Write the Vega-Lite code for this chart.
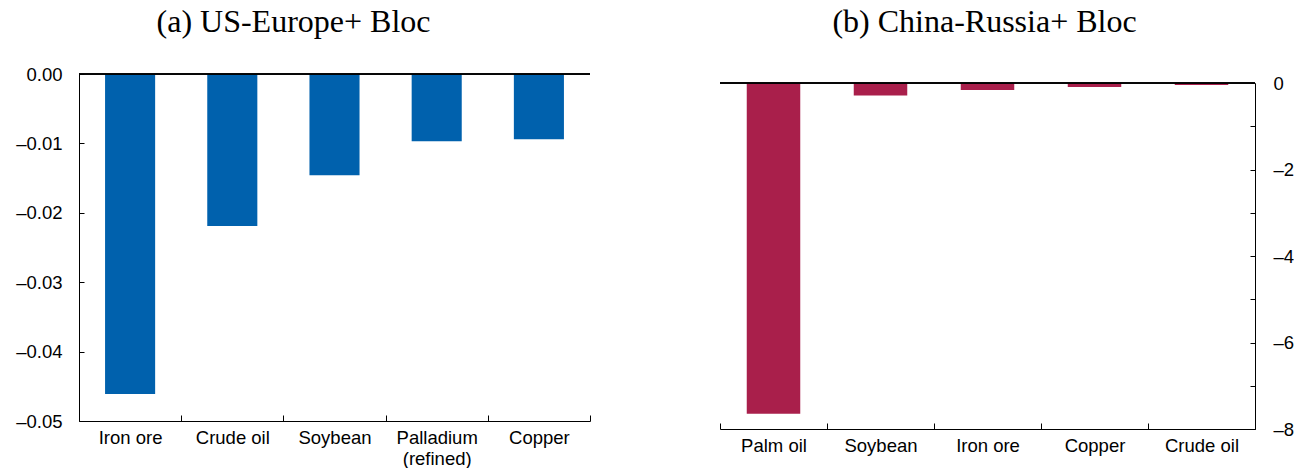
{
  "$schema": "https://vega.github.io/schema/vega-lite/v6.json",
  "background": "white",
  "padding": {"left": 15, "top": 6, "right": 0, "bottom": 0},
  "spacing": 128,
  "config": {
    "view": {"stroke": null},
    "font": "Liberation Sans",
    "axis": {
      "domainColor": "black",
      "tickColor": "black",
      "labelColor": "black",
      "labelFont": "Liberation Sans",
      "labelFontSize": 18.5,
      "grid": false,
      "title": null
    },
    "title": {
      "font": "Liberation Serif",
      "fontSize": 32,
      "fontWeight": "normal",
      "color": "black",
      "offset": 26
    }
  },
  "hconcat": [
    {
      "width": 511,
      "height": 347,
      "title": {"text": "(a) US-Europe+ Bloc", "dx": -41},
      "data": {
        "values": [
          {"commodity": "Iron ore", "value": -0.0461},
          {"commodity": "Crude oil", "value": -0.0219},
          {"commodity": "Soybean", "value": -0.0146},
          {"commodity": "Palladium (refined)", "value": -0.0097},
          {"commodity": "Copper", "value": -0.0094}
        ]
      },
      "layer": [
        {
          "mark": {"type": "bar", "color": "#0061AD", "width": {"band": 0.49}},
          "encoding": {
            "x": {
              "field": "commodity",
              "type": "nominal",
              "sort": null,
              "scale": {"paddingInner": 0, "paddingOuter": 0},
              "axis": {
                "orient": "bottom",
                "labelAngle": 0,
                "tickBand": "extent",
                "tickSize": -6,
                "labelPadding": 13,
                "labelLineHeight": 21,
                "labelExpr": "datum.value == 'Palladium (refined)' ? ['Palladium', '(refined)'] : datum.value"
              }
            },
            "y": {
              "field": "value",
              "type": "quantitative",
              "scale": {"domain": [-0.05, 0], "nice": false, "zero": false},
              "axis": {
                "orient": "left",
                "values": [-0.05, -0.045, -0.04, -0.035, -0.03, -0.025, -0.02, -0.015, -0.01, -0.005, 0],
                "tickSize": -5,
                "labelPadding": 22,
                "labelExpr": "abs(datum.value * 100 - round(datum.value * 100)) > 0.01 ? '' : (datum.value == 0 ? '0.00' : '–' + format(-datum.value, '.2f'))"
              }
            }
          }
        },
        {
          "mark": {"type": "rule", "color": "black", "strokeWidth": 1},
          "encoding": {"y": {"datum": 0}}
        }
      ]
    },
    {
      "width": 535,
      "height": 355,
      "title": {"text": "(b) China-Russia+ Bloc", "dx": -3, "offset": 35},
      "data": {
        "values": [
          {"commodity": "Palm oil", "value": -7.65},
          {"commodity": "Soybean", "value": -0.29},
          {"commodity": "Iron ore", "value": -0.16},
          {"commodity": "Copper", "value": -0.093},
          {"commodity": "Crude oil", "value": -0.046}
        ]
      },
      "layer": [
        {
          "mark": {"type": "bar", "color": "#A91F4B", "width": {"band": 0.5}},
          "encoding": {
            "x": {
              "field": "commodity",
              "type": "nominal",
              "sort": null,
              "scale": {"paddingInner": 0, "paddingOuter": 0},
              "axis": {
                "orient": "bottom",
                "labelAngle": 0,
                "tickBand": "extent",
                "tickSize": -6,
                "labelPadding": 13
              }
            },
            "y": {
              "field": "value",
              "type": "quantitative",
              "scale": {"domain": [-8, 0], "nice": false, "zero": false, "range": [355, 9]},
              "axis": {
                "orient": "right",
                "values": [-8, -7, -6, -5, -4, -3, -2, -1, 0],
                "tickSize": -5,
                "labelPadding": 23,
                "labelExpr": "datum.value % 2 != 0 ? '' : (datum.value == 0 ? '0' : '–' + format(-datum.value, 'd'))"
              }
            }
          }
        },
        {
          "mark": {"type": "rule", "color": "black", "strokeWidth": 1},
          "encoding": {"y": {"datum": 0}}
        }
      ]
    }
  ]
}
